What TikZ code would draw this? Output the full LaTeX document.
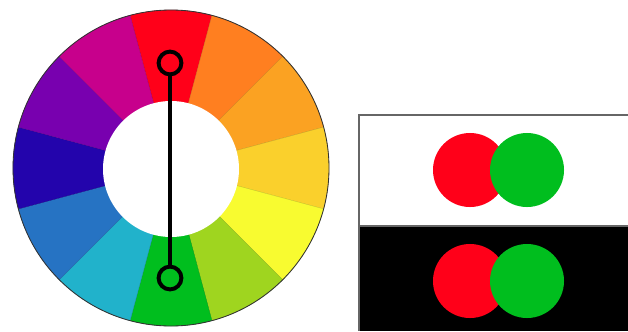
\documentclass[tikz,border=0pt]{standalone}
\usepackage{tikz}

\definecolor{cRed}{HTML}{FF0019}
\definecolor{cOrange}{HTML}{FF7F20}
\definecolor{cLightOrange}{HTML}{FBA222}
\definecolor{cGold}{HTML}{FAD02C}
\definecolor{cYellow}{HTML}{F8FB30}
\definecolor{cLime}{HTML}{9FD51F}
\definecolor{cGreen}{HTML}{00BE1E}
\definecolor{cCyan}{HTML}{21B2CB}
\definecolor{cBlue}{HTML}{2673C3}
\definecolor{cIndigo}{HTML}{2304AC}
\definecolor{cPurple}{HTML}{7800AF}
\definecolor{cMagenta}{HTML}{C7008C}

\tikzset{
  ring/.style={circle, draw=black, line width=2.8pt, minimum size=5.7mm, inner sep=0pt},
  disc/.style={circle, minimum size=18.5mm, inner sep=0pt}
}

\begin{document}
\begin{tikzpicture}[x=0.025cm, y=0.025cm]
    \useasboundingbox (0,0) rectangle (628,331);

    % 1. Vòng tròn màu
    \foreach \ang/\col in {90/cRed, 60/cOrange, 30/cLightOrange, 0/cGold,
        -30/cYellow, -60/cLime, -90/cGreen, -120/cCyan, -150/cBlue,
        180/cIndigo, 150/cPurple, 120/cMagenta}
        \fill[\col, draw=\col!80!black, line width=0.2pt]
            (171,163) -- ++(\ang-15:158) arc (\ang-15:\ang+15:158) -- cycle;
    \draw[black!80, line width=0.6pt] (171,163) circle (158);
    \fill[white] (171,162) circle (68);

    % 2. Hai màu bù nhau
    \node[ring] (top) at (170,268) {};
    \node[ring] (bot) at (170,53) {};
    \draw[line width=2.8pt] (top) -- (bot);

    % 3. Khung nền trắng và đen
    \fill[black] (359,0) rectangle (628,105);
    \draw[black!60, line width=0.8pt] (628,216) -- (359,216) -- (359,0);
    \draw[black!60, line width=0.8pt] (359,105) -- (628,105);

    % 4. Các hình tròn
    \node[disc, fill=cRed] (redW) at (470,161) {};
    \node[disc, fill=cGreen] (greenW) at (527,161) {};
    \node[disc, fill=cRed] (redB) at (470,50) {};
    \node[disc, fill=cGreen] (greenB) at (527,50) {};
\end{tikzpicture}
\end{document}
